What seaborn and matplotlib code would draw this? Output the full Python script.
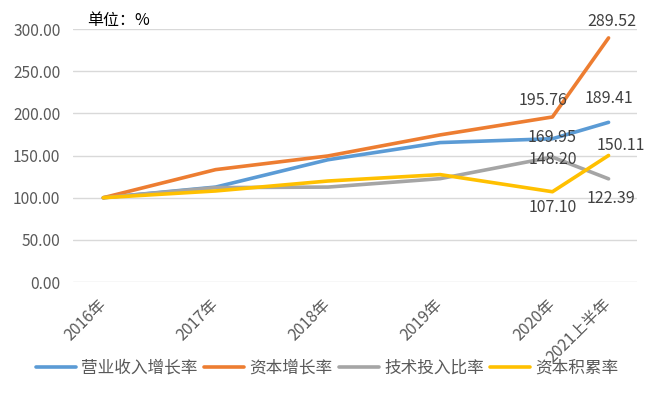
import pandas as pd
import seaborn as sns
from matplotlib import pyplot as plt

# 数据
years = ['2016年', '2017年', '2018年', '2019年', '2020年', '2021上半年']
year_pos = [0, 1, 2, 3, 4, 4.5]   # 最后一个是半年, 间隔较短
revenue_growth = [100, 112.6, 145.0, 165.4, 169.95, 189.41]
capital_growth = [100, 133.3, 149.5, 174.5, 195.76, 289.52]
tech_ratio = [100, 112.0, 112.6, 122.6, 148.20, 122.39]
capital_accum = [100, 108.0, 119.8, 127.4, 107.10, 150.11]
series_names = ['营业收入增长率', '资本增长率', '技术投入比率', '资本积累率']
colors = ['#5B9BD5', '#ED7D31', '#A5A5A5', '#FFC000']

sns.set_theme(style='white')
plt.rcParams['font.family'] = ['Noto Sans CJK SC', 'DejaVu Sans']

rows = []
for name, vals in zip(series_names, [revenue_growth, capital_growth, tech_ratio, capital_accum]):
    for p, v in zip(year_pos, vals):
        rows.append({'x': p, 'value': v, 'series': name})
df = pd.DataFrame(rows)

fig = plt.figure(figsize=(6.6, 3.95), dpi=100)
ax = fig.add_axes([0.1106, 0.286, 0.854, 0.6404])

sns.lineplot(data=df, x='x', y='value', hue='series', palette=colors,
             linewidth=2.6, ax=ax, sort=False)

ax.set_ylim(0, 300)
ax.set_xlim(-0.27, 4.75)
ax.set_yticks([0, 50, 100, 150, 200, 250, 300])
ax.set_yticklabels([f'{v:.2f}' for v in ax.get_yticks()], fontsize=11.2, color='#595959')
ax.set_xticks(year_pos)
ax.set_xticklabels(years, rotation=45, ha='right', va='center', rotation_mode='anchor',
                   fontsize=11.5, color='#595959')
ax.tick_params(axis='x', pad=14, length=0)
ax.tick_params(axis='y', pad=9, length=0)
ax.grid(axis='y', color='#D9D9D9', linewidth=1)
for s in ax.spines.values():
    s.set_visible(False)
ax.set_xlabel('')
ax.set_ylabel('')

# 数据标签 (最后两个点)
label_offsets = {
    ('资本增长率', 4): (-7, 12), ('资本增长率', 5): (2, 11.5),
    ('营业收入增长率', 4): (0, 1), ('营业收入增长率', 5): (0, 17),
    ('技术投入比率', 4): (0, -2), ('技术投入比率', 5): (2, -14),
    ('资本积累率', 4): (0, -11), ('资本积累率', 5): (9, 7),
}
all_vals = dict(zip(series_names, [revenue_growth, capital_growth, tech_ratio, capital_accum]))
for (name, i), off in label_offsets.items():
    v = all_vals[name][i]
    ax.annotate(f'{v:.2f}', (year_pos[i], v), xytext=off, textcoords='offset points',
                ha='center', va='center', fontsize=11.5, color='#404040')

fig.text(0.132, 0.947, '单位：%', fontsize=11.5, color='black', ha='left', va='center')

ax.legend_.remove()
handles, labels = ax.get_legend_handles_labels()
fig.legend(handles, labels, loc='center', bbox_to_anchor=(0.496, 0.068), ncol=4,
           frameon=False, fontsize=12, handlelength=2.4, handletextpad=0.3,
           columnspacing=0.4, labelcolor='#595959')

plt.savefig('out.png', dpi=100)
